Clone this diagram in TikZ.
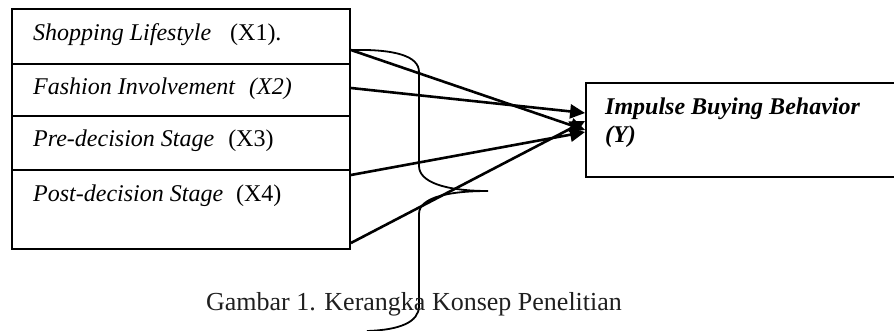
\documentclass[tikz,border=0pt]{standalone}
\usepackage{fontspec}
\setmainfont{Liberation Serif}
\usetikzlibrary{arrows.meta}
\begin{document}
\begin{tikzpicture}[x=1pt,y=-1pt,
  rowbox/.style={draw, line width=1.8pt, rectangle, inner sep=0pt, minimum width=338pt},
  lbl/.style={anchor=base west, inner sep=0pt, font=\fontsize{24}{28}\selectfont},
  link/.style={line width=2.6pt, -{Triangle[length=15pt,width=14pt]}},
  bracket/.style={line width=1.8pt}]
\clip (0,0) rectangle (894,331);

% independent variables, stacked boxes
\node[rowbox, minimum height=55pt] (r1) at (181,36.5) {};
\node[rowbox, minimum height=52pt] (r2) at (181,90) {};
\node[rowbox, minimum height=54pt] (r3) at (181,143) {};
\node[rowbox, minimum height=79pt] (r4) at (181,209.5) {};

\node[lbl] (t1) at (33,41) {\textit{Shopping Lifestyle}\hspace{19pt}(X1).};
\node[lbl] (t2) at (33,95) {\textit{Fashion Involvement\hspace{14pt}(X2)}};
\node[lbl] (t3) at (33,147) {\textit{Pre-decision Stage}\hspace{14pt}(X3)};
\node[lbl] (t4) at (33,202) {\textit{Post-decision Stage}\hspace{13pt}(X4)};

% dependent variable box (runs past the right margin)
\node[rowbox, minimum width=330pt, minimum height=94pt] (yb) at (751,130) {};
\node[lbl] (ty1) at (605,115) {\textbf{\textit{Impulse Buying Behavior}}};
\node[lbl] (ty2) at (605,143) {\textbf{\textit{(Y)}}};

% connector end points on the box edges
\coordinate (s1) at (r1.east |- 0,50);
\coordinate (s2) at (r2.east |- 0,88);
\coordinate (s3) at (r4.east |- 0,175);
\coordinate (s4) at (r4.east |- 0,243);
\coordinate (e1) at (yb.west |- 0,130);
\coordinate (e2) at (yb.west |- 0,113);
\coordinate (e3) at (yb.west |- 0,132);
\coordinate (e4) at (yb.west |- 0,121);
\coordinate (bt) at (488,191);
\coordinate (bb) at (367,331);

\draw[link] (s1) -- (e1);
\draw[link] (s2) -- (e2);
\draw[link] (s3) -- (e3);
\draw[link] (s4) -- (e4);

% curly brace
\draw[bracket] (s1) .. controls (395,49) and (419,56) .. (419,72) -- (419,166)
  .. controls (419,182) and (445,191) .. (bt)
  .. controls (450,191) and (419,197) .. (419,214) -- (419,306)
  .. controls (419,322) and (400,330) .. (bb);

\node[anchor=base, inner sep=0pt, font=\fontsize{26}{30}\selectfont, text=black!88] (cap) at (414,310) {Gambar 1. Kerangka Konsep Penelitian};
\end{tikzpicture}
\end{document}
